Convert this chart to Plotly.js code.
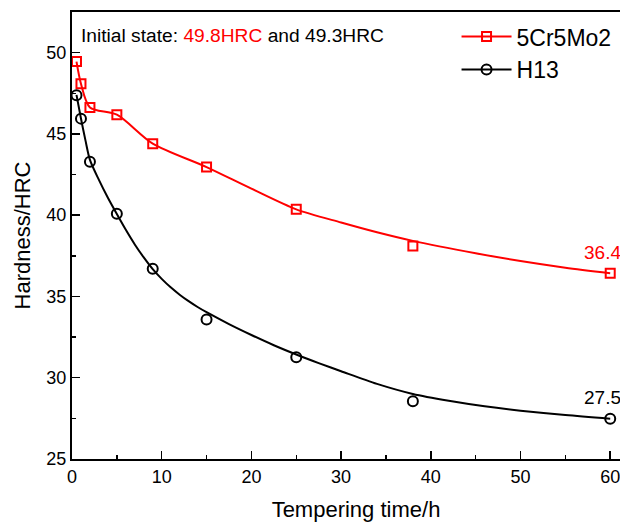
<!DOCTYPE html>
<html>
<head>
<meta charset="utf-8">
<script src="https://cdn.plot.ly/plotly-3.0.1.min.js"></script>
<style>
html,body{margin:0;padding:0;overflow:hidden;background:#fff;width:620px;height:527px;}
#chart{width:640px;height:527px;}
</style>
</head>
<body>
<div id="chart"></div>
<script>
// Measured points
const timeH = [0.5, 1, 2, 5, 9, 15, 25, 38, 60];
const hardCr5Mo2 = [49.45, 48.09, 46.63, 46.18, 44.4, 42.96, 40.36, 38.1, 36.42];
const hardH13 = [47.38, 45.94, 43.29, 40.09, 36.7, 33.58, 31.26, 28.55, 27.48];

// Fitted curves
const fitXCr = [0.5, 1, 2, 5, 9, 15, 20, 25, 30, 34, 38, 45, 50, 55, 60];
const fitYCr = [49.45, 48.09, 46.63, 46.18, 44.4, 42.96, 41.63, 40.36, 39.55, 38.95, 38.42, 37.66, 37.18, 36.77, 36.43];
const fitXH13 = [0.5, 1, 1.5, 2, 3, 4, 5, 6, 7, 8, 9, 10, 11, 12, 13, 14, 15, 17.5, 20, 22.5, 25, 27.5, 30, 34, 38, 42, 46, 50, 55, 60];
const fitYH13 = [47.4, 45.95, 44.6, 43.4, 42.17, 41.07, 40.07, 39.1, 38.2, 37.4, 36.68, 36.08, 35.56, 35.11, 34.71, 34.35, 34.03, 33.3, 32.63, 32.0, 31.43, 30.9, 30.4, 29.62, 29.0, 28.58, 28.24, 27.97, 27.7, 27.48];

const seriesNames = ['5Cr5Mo2', 'H13'];
const xTicks = [0, 10, 20, 30, 40, 50, 60];
const yTicks = [25, 30, 35, 40, 45, 50];
const endLabels = ['36.4', '27.5'];

const RED = '#ff0000';
const BLK = '#000000';
const FONT = '"Liberation Sans", Arial, sans-serif';

const traces = [
  {x: fitXCr, y: fitYCr, mode: 'lines', line: {color: RED, width: 2, shape: 'spline', smoothing: 0.8}, showlegend: false, hoverinfo: 'skip'},
  {x: fitXH13, y: fitYH13, mode: 'lines', line: {color: BLK, width: 2, shape: 'spline', smoothing: 0.8}, showlegend: false, hoverinfo: 'skip'},
  {x: timeH, y: hardCr5Mo2, mode: 'markers', marker: {symbol: 'square-open', size: 9, color: RED, line: {width: 2, color: RED}}, showlegend: false},
  {x: timeH, y: hardH13, mode: 'markers', marker: {symbol: 'circle-open', size: 10, color: BLK, line: {width: 2, color: BLK}}, showlegend: false},
  // legend entries
  {x: [null], y: [null], name: seriesNames[0], mode: 'lines+markers', line: {color: RED, width: 2}, marker: {symbol: 'square-open', size: 9, color: RED, line: {width: 2, color: RED}}},
  {x: [null], y: [null], name: seriesNames[1], mode: 'lines+markers', line: {color: BLK, width: 2}, marker: {symbol: 'circle-open', size: 10, color: BLK, line: {width: 2, color: BLK}}}
];

const layout = {
  width: 640, height: 527,
  margin: {l: 72, r: 0, t: 12, b: 68},
  paper_bgcolor: '#fff', plot_bgcolor: '#fff',
  font: {family: FONT, color: '#000', size: 18},
  showlegend: true,
  legend: {x: 0.677, y: 0.993, xanchor: 'left', yanchor: 'top', bgcolor: 'rgba(0,0,0,0)', font: {size: 23, family: FONT}, tracegroupgap: 0, itemwidth: 50},
  xaxis: {
    range: [0, 63.32], showgrid: false, zeroline: false,
    showline: true, linecolor: '#000', linewidth: 2, mirror: true,
    ticks: 'inside', ticklen: 8, tickwidth: 1.5, tickcolor: '#000',
    tickvals: xTicks, ticktext: xTicks.map(String),
    minor: {ticks: 'inside', ticklen: 4, tickwidth: 1.5, dtick: 5, tick0: 0, tickcolor: '#000', showgrid: false},
    tickfont: {size: 18, family: FONT},
    title: {text: 'Tempering time/h', font: {size: 22, family: FONT}, standoff: 16}
  },
  yaxis: {
    range: [25, 52.5], showgrid: false, zeroline: false,
    showline: true, linecolor: '#000', linewidth: 2, mirror: true,
    ticks: 'inside', ticklen: 8, tickwidth: 1.5, tickcolor: '#000',
    tickvals: yTicks, ticktext: yTicks.map(String),
    minor: {ticks: 'inside', ticklen: 4, tickwidth: 1.5, dtick: 2.5, tick0: 25, tickcolor: '#000', showgrid: false},
    tickfont: {size: 18, family: FONT},
    title: {text: 'Hardness/HRC', font: {size: 22, family: FONT}, standoff: 10}
  },
  annotations: [
    {xref: 'paper', yref: 'paper', x: 0.012, y: 0.9485, xanchor: 'left', yanchor: 'middle', showarrow: false,
     text: 'Initial state: <span style="color:#ff0000">49.8HRC</span> and 49.3HRC', font: {size: 19.2, family: FONT, color: '#000'}},
    {xref: 'x', yref: 'y', x: timeH[timeH.length - 1], y: hardCr5Mo2[hardCr5Mo2.length - 1], xshift: -28, yshift: 21, xanchor: 'left', yanchor: 'middle', showarrow: false,
     text: endLabels[0], font: {size: 19, family: FONT, color: RED}},
    {xref: 'x', yref: 'y', x: timeH[timeH.length - 1], y: hardH13[hardH13.length - 1], xshift: -28, yshift: 21, xanchor: 'left', yanchor: 'middle', showarrow: false,
     text: endLabels[1], font: {size: 19, family: FONT, color: BLK}}
  ]
};

Plotly.newPlot('chart', traces, layout, {displayModeBar: false, staticPlot: true});
</script>
</body>
</html>
